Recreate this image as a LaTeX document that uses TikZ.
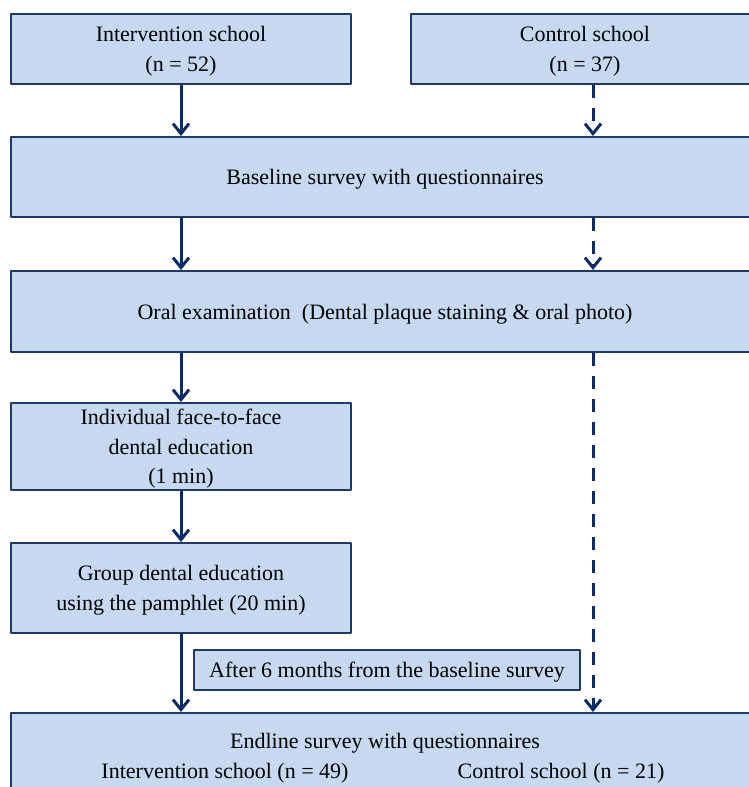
\documentclass[tikz,border=0pt]{standalone}
\usepackage{fontspec}
\setmainfont{Liberation Serif}
\usetikzlibrary{arrows.meta}
\definecolor{boxfill}{HTML}{C6D9F1}
\definecolor{boxline}{HTML}{1F3864}
\definecolor{arrowcol}{HTML}{0C2A66}
\begin{document}
\begin{tikzpicture}[x=1pt, y=-1pt, font=\fontsize{22}{29.5}\selectfont, line join=round,
	box/.style={draw=boxline, line width=2pt, fill=boxfill, align=center, inner sep=0pt, text depth=-3pt},
	flow/.style={draw=arrowcol, line width=3pt, -{Straight Barb[length=10pt, width=16pt, line width=3pt]}},
	flowdash/.style={flow, dash pattern=on 13pt off 10pt}]
	\def\xl{181} \def\xr{593}
	\useasboundingbox (0,0) rectangle (749,787);
	\clip (0,0) rectangle (749,787);
	\coordinate (l) at (\xl,0);
	\coordinate (r) at (\xr,0);
	\node[box, minimum width=340, minimum height=70] (inter) at (181,49) {Intervention school\\(n = 52)};
	\node[box, minimum width=348, minimum height=70] (ctrl) at (585,49) {Control school\\(n = 37)};
	\node[box, minimum width=748, minimum height=80] (base) at (385,177) {Baseline survey with questionnaires};
	\node[box, minimum width=748, minimum height=81] (oral) at (385,311.5) {Oral examination\ \ (Dental plaque staining \& oral photo)};
	\node[box, minimum width=340, minimum height=87] (indiv) at (181,446.5) {Individual face-to-face\\dental education\\(1 min)};
	\node[box, minimum width=340, minimum height=90] (group) at (181,588) {Group dental education\\using the pamphlet (20 min)};
	\node[box, minimum width=386, minimum height=40] (after) at (387,670) {After 6 months from the baseline survey};
	\node[box, minimum width=748, minimum height=90] (endl) at (385,758) {};
	\path
	(385,743) node (endtitle) {Endline survey with questionnaires}
	(225,773) node (endinter) {Intervention school (n = 49)}
	(561,773) node (endctrl) {Control school (n = 21)};
	\draw[flow] (inter.south -| l) -- (base.north -| l);
	\draw[flow] (base.south -| l) -- (oral.north -| l);
	\draw[flow] (oral.south -| l) -- (indiv.north -| l);
	\draw[flow] (indiv.south -| l) -- (group.north -| l);
	\draw[flow] (group.south -| l) -- (endl.north -| l);
	\draw[flowdash] (ctrl.south -| r) -- (base.north -| r);
	\draw[flowdash] (base.south -| r) -- (oral.north -| r);
	\draw[flowdash] (oral.south -| r) -- (endl.north -| r);
\end{tikzpicture}
\end{document}
